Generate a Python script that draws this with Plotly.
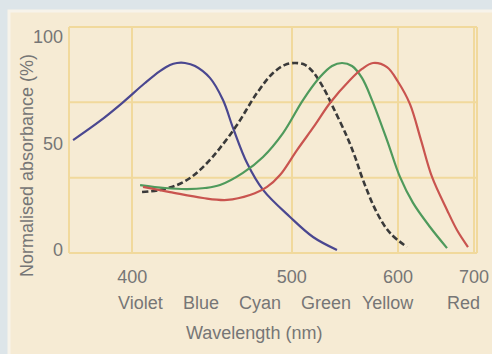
import plotly.graph_objects as go

# ---------------- data ----------------
blue_nm = [372.4, 384.5, 395.0, 406.5, 414.4, 419.9, 423.8, 428.4, 434.2, 443.2,
           451.4, 457.9, 467.3, 478.5, 498.7, 517.3, 538.2]
blue_abs = [51.6, 60.6, 69.0, 78.4, 84.0, 86.9, 87.8, 87.8, 86.4, 80.8,
            70.4, 57.3, 40.8, 28.2, 15.5, 6.1, 0.0]

green_nm = [404.0, 417.2, 429.5, 440.2, 449.5, 464.5, 478.5, 493.3, 509.0, 523.2,
            533.7, 542.8, 552.2, 561.9, 572.0, 587.8, 602.2, 617.4, 638.4, 660.9]
green_abs = [30.5, 29.1, 28.6, 29.1, 30.5, 36.2, 43.7, 54.9, 70.4, 81.2,
             86.4, 87.8, 86.4, 80.8, 70.4, 51.6, 34.3, 22.1, 10.8, 0.9]

red_nm = [405.5, 419.9, 439.0, 454.0, 469.3, 481.4, 491.0, 504.2, 519.0, 531.9,
          550.3, 561.9, 573.0, 587.8, 600.0, 613.8, 627.1, 641.0, 660.9,
          674.8, 690.9]
red_abs = [29.6, 27.2, 24.4, 23.5, 25.8, 29.6, 35.2, 46.9, 58.7, 69.0,
           79.8, 85.0, 87.8, 85.9, 79.0, 68.5, 51.6, 34.3, 18.8,
           9.4, 1.4]

rod_nm = [405.0, 414.4, 423.8, 431.3, 437.2, 443.2, 449.5, 460.5, 474.2, 485.8,
          494.8, 502.6, 510.7, 517.3, 525.8, 534.6, 547.5, 555.1, 562.9, 577.2,
          591.1, 610.3]
rod_abs = [27.2, 28.2, 30.5, 33.8, 37.6, 42.3, 47.9, 58.7, 73.7, 83.1,
           86.9, 87.8, 86.9, 83.6, 76.5, 67.1, 53.1, 43.7, 32.9, 17.4,
           8.0, 1.4]

x_ticks_nm = [400, 500, 600, 700]
y_ticks = [0, 50, 100]
band_names = ["Violet", "Blue", "Cyan", "Green", "Yellow", "Red"]
band_centres_nm = [404, 438, 476, 528, 589, 684]

# wavelength axis drawn on a reciprocal (wavenumber) scale, as in the original
def wn(nm):
    return 1e7 / nm

FONT = "Liberation Sans, Arial, sans-serif"
TXT = "#767676"
GRID = "#f1d99c"
FS = 18

fig = go.Figure()

def add_curve(xs, ys, color, dash="solid", width=2.2):
    fig.add_trace(go.Scatter(
        x=[wn(v) for v in xs], y=ys, mode="lines",
        line=dict(color=color, width=width, dash=dash, shape="spline", smoothing=1.0),
        hoverinfo="skip", showlegend=False))

add_curve(blue_nm, blue_abs, "#4a4790")
add_curve(rod_nm, rod_abs, "#3a3a3a", dash="6px,3px", width=2.6)
add_curve(green_nm, green_abs, "#4f9a5c")
add_curve(red_nm, red_abs, "#c9544f")

# panel background (cream card on grey page)
l, r, t, b = 69, 15, 27, 101
W, H = 492, 354
pw, ph = W - l - r, H - t - b
def px_x(px):
    return (px - l) / pw
def px_y(py):
    return (H - b - py) / ph

fig.add_shape(type="rect", xref="paper", yref="paper",
              x0=px_x(9), x1=px_x(W + 5), y0=px_y(H + 5), y1=px_y(11),
              fillcolor="#f6ebd4", line=dict(color="#f7f3ea", width=3), layer="below")

# horizontal grid lines (thirds of the plot height) and frame
for f in [0, 1/3, 2/3, 1]:
    fig.add_shape(type="line", xref="x domain", yref="y domain",
                  x0=0, x1=1, y0=f, y1=f, line=dict(color=GRID, width=2), layer="below")
for f in [0, 1]:
    fig.add_shape(type="line", xref="x domain", yref="y domain",
                  x0=f, x1=f, y0=0, y1=1, line=dict(color=GRID, width=2), layer="below")

# colour band labels
for name, nm in zip(band_names, band_centres_nm):
    fig.add_annotation(x=wn(nm), y=px_y(303), xref="x", yref="paper", text=name,
                       showarrow=False, font=dict(family=FONT, size=FS, color=TXT),
                       xanchor="center", yanchor="middle")

fig.add_annotation(x=px_x(253.5), y=px_y(333), xref="paper", yref="paper",
                   text="Wavelength (nm)", showarrow=False,
                   font=dict(family=FONT, size=FS, color=TXT),
                   xanchor="center", yanchor="middle")
fig.add_annotation(x=px_x(27), y=px_y(166), xref="paper", yref="paper",
                   text="Normalised absorbance (%)", showarrow=False, textangle=-90,
                   font=dict(family=FONT, size=FS, color=TXT),
                   xanchor="center", yanchor="middle")

fig.update_xaxes(range=[26981, 14191], tickvals=[wn(v) for v in x_ticks_nm],
                 ticktext=[str(v) for v in x_ticks_nm], showgrid=True, gridcolor=GRID,
                 gridwidth=2, zeroline=False, showline=False, ticks="", automargin=False,
                 tickfont=dict(family=FONT, size=FS, color=TXT), ticklabelstandoff=11)
fig.update_yaxes(range=[-1.41, 104.7], tickvals=y_ticks, showgrid=False,
                 zeroline=False, showline=False, ticks="", automargin=False,
                 tickfont=dict(family=FONT, size=FS, color=TXT), ticklabelstandoff=5)

fig.update_layout(width=W, height=H, margin=dict(l=l, r=r, t=t, b=b),
                  paper_bgcolor="#dde5e9", plot_bgcolor="rgba(0,0,0,0)",
                  showlegend=False)

fig.write_html("out.html", config={"displayModeBar": False},
               post_script="document.body.style.margin='0';")
